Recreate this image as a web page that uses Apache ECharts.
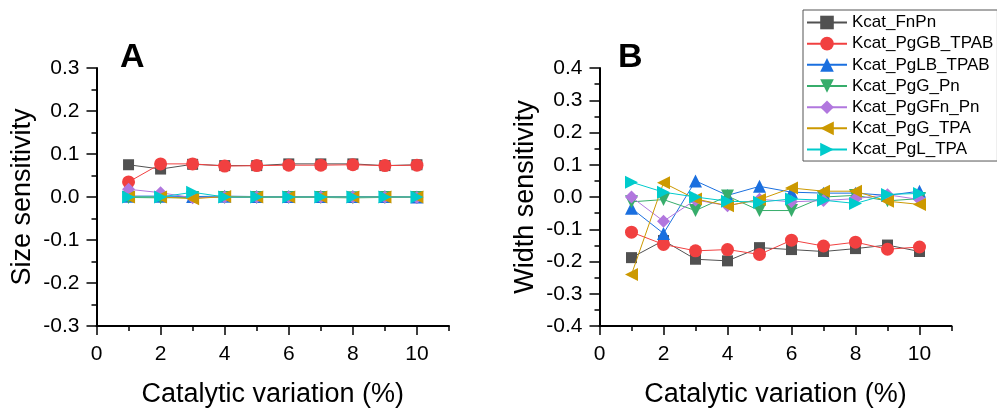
<!DOCTYPE html>
<html>
<head>
<meta charset="utf-8">
<script src="https://cdn.jsdelivr.net/npm/echarts@6/dist/echarts.min.js"></script>
<style>
html,body{margin:0;padding:0;background:#fff;}
#chart{width:997px;height:413px;}
</style>
</head>
<body>
<div id="chart"></div>
<script>
// ---- data ----
const seriesNames = ['Kcat_FnPn','Kcat_PgGB_TPAB','Kcat_PgLB_TPAB','Kcat_PgG_Pn','Kcat_PgGFn_Pn','Kcat_PgG_TPA','Kcat_PgL_TPA'];
const xValues = [1,2,3,4,5,6,7,8,9,10];
const xTickLabels = [0,2,4,6,8,10];
const xMinorTicks = [1,3,5,7,9,11];

// Panel A: size sensitivity
const sizeFnPn     = [0.075,0.065,0.076,0.073,0.073,0.077,0.077,0.077,0.073,0.075];
const sizePgGB     = [0.035,0.077,0.077,0.072,0.073,0.074,0.074,0.075,0.073,0.074];
const sizePgLB     = [0.002,0.002,0.001,0.002,0.001,0.001,0.001,0.001,0.001,0.000];
const sizePgGPn    = [-0.001,-0.002,-0.001,-0.001,-0.001,-0.001,-0.001,-0.002,-0.001,-0.001];
const sizePgGFnPn  = [0.018,0.010,-0.002,0.000,0.000,0.000,0.000,0.000,0.000,-0.001];
const sizePgGTPA   = [0.000,0.000,-0.004,0.001,0.000,0.000,0.000,0.000,0.000,0.000];
const sizePgLTPA   = [0.000,0.000,0.011,0.000,0.000,0.000,0.000,0.000,0.000,0.000];

// Panel B: width sensitivity
const widthFnPn    = [-0.188,-0.135,-0.193,-0.198,-0.157,-0.163,-0.169,-0.160,-0.149,-0.169];
const widthPgGB    = [-0.109,-0.147,-0.167,-0.163,-0.178,-0.134,-0.152,-0.140,-0.162,-0.155];
const widthPgLB    = [-0.035,-0.113,0.050,0.005,0.033,0.015,0.012,0.012,0.005,0.018];
const widthPgGPn   = [-0.015,-0.008,-0.042,0.003,-0.042,-0.042,0.000,0.005,-0.012,-0.005];
const widthPgGFnPn = [0.000,-0.075,-0.009,-0.027,-0.007,-0.015,-0.011,-0.005,0.007,-0.008];
const widthPgGTPA  = [-0.240,0.044,-0.006,-0.027,-0.008,0.028,0.018,0.018,-0.013,-0.023];
const widthPgLTPA  = [0.046,0.015,0.000,-0.013,-0.016,-0.006,-0.010,-0.020,0.008,0.011];

const sizeData  = [sizeFnPn,sizePgGB,sizePgLB,sizePgGPn,sizePgGFnPn,sizePgGTPA,sizePgLTPA];
const widthData = [widthFnPn,widthPgGB,widthPgLB,widthPgGPn,widthPgGFnPn,widthPgGTPA,widthPgLTPA];

// ---- styles ----
const colors = ['#515151','#F14040','#1A6FDF','#37AD6B','#B177DE','#CC9900','#00CBCC'];
const symbols = ['rect','circle','triangle','path://M0,0L10,0L5,10Z','diamond','path://M10,0L0,5L10,10Z','path://M0,0L10,5L0,10Z'];
const symbolSizes = [11,13,13,13,13,13,13];
const FONT = 'Liberation Sans, Arial, Helvetica, sans-serif';

const chart = echarts.init(document.getElementById('chart'));

const grids = [
  {left:96.5, top:68, width:352.5, height:259},
  {left:599.5, top:68, width:352, height:259}
];

function mainX(gi){
  return {
    type:'value', gridIndex:gi, min:0, max:11, interval:2,
    name:'Catalytic variation (%)', nameLocation:'middle', nameGap:55,
    nameTextStyle:{fontSize:27, color:'#000', fontFamily:FONT},
    axisLine:{show:true, onZero:false, lineStyle:{color:'#000', width:2}},
    axisTick:{show:true, inside:false, length:9, lineStyle:{color:'#000', width:1.5}, customValues:xTickLabels},
    axisLabel:{show:true, margin:18, fontSize:21, color:'#000', fontFamily:FONT, customValues:xTickLabels},
    splitLine:{show:false}
  };
}
function minorX(gi){
  return {
    type:'value', gridIndex:gi, min:0, max:11, interval:1, position:'bottom',
    axisLine:{show:false, onZero:false},
    axisTick:{show:true, inside:false, length:5, lineStyle:{color:'#000', width:1.5}, customValues:xMinorTicks},
    axisLabel:{show:false}, splitLine:{show:false}
  };
}
function mainY(gi, lim, nm){
  return {
    type:'value', gridIndex:gi, min:-lim, max:lim, interval:0.1,
    name:nm, nameLocation:'middle', nameGap:60,
    nameTextStyle:{fontSize:27, color:'#000', fontFamily:FONT},
    axisLine:{show:true, onZero:false, lineStyle:{color:'#000', width:2}},
    axisTick:{show:true, inside:false, length:10, lineStyle:{color:'#000', width:1.5}},
    minorTick:{show:true, splitNumber:2, length:5, lineStyle:{color:'#000', width:1.5}},
    axisLabel:{margin:17, fontSize:21, color:'#000', fontFamily:FONT, formatter:v=>v.toFixed(1)},
    splitLine:{show:false}, minorSplitLine:{show:false}
  };
}

const series = [];
[sizeData, widthData].forEach((set, gi) => {
  set.forEach((vals, si) => {
    series.push({
      type:'line', name:seriesNames[si],
      xAxisIndex: gi*2, yAxisIndex: gi,
      data: xValues.map((x,i)=>[x, vals[i]]),
      symbol: symbols[si], symbolSize: symbolSizes[si],
      itemStyle:{color:colors[si]},
      lineStyle:{color:colors[si], width:1},
      showAllSymbol:true, animation:false, z: 2+si
    });
  });
});

chart.setOption({
  animation:false,
  textStyle:{fontFamily:FONT},
  grid: grids,
  xAxis:[mainX(0), minorX(0), mainX(1), minorX(1)],
  yAxis:[mainY(0,0.3,'Size sensitivity'), mainY(1,0.4,'Width sensitivity')],
  legend:{
    data:seriesNames, orient:'vertical', left:803, top:10,
    itemWidth:40, itemHeight:17, itemGap:4.17,
    padding:[4,4,3,3], borderColor:'#555', borderWidth:1,
    textStyle:{fontSize:17, color:'#000', fontFamily:FONT}
  },
  graphic:[
    {type:'text', left:120, top:41, style:{text:'A', font:'bold 34px '+FONT, fill:'#000'}},
    {type:'text', left:618, top:41, style:{text:'B', font:'bold 34px '+FONT, fill:'#000'}}
  ],
  series: series
});
</script>
</body>
</html>
